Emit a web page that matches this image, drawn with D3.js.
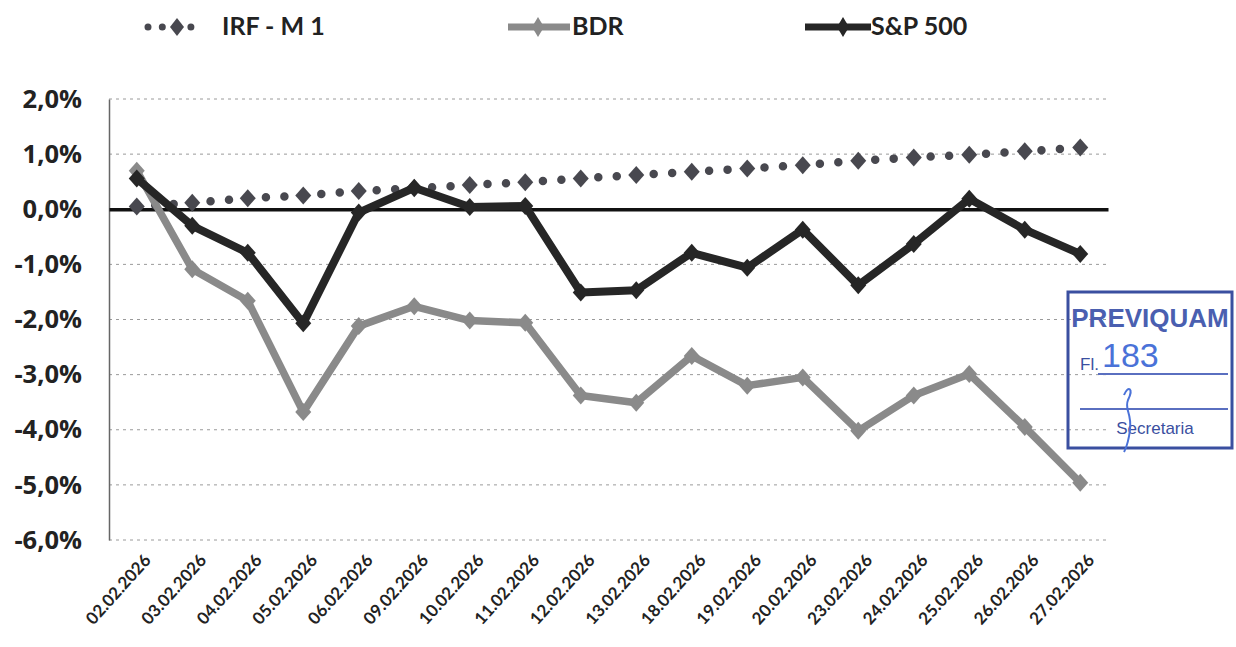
<!DOCTYPE html>
<html><head><meta charset="utf-8">
<script src="https://cdn.jsdelivr.net/npm/d3@7"></script>
<style>body{margin:0;background:#fff}svg{display:block}</style>
</head><body>
<svg id="c" width="1236" height="647"></svg>
<script>
const categories = ["02.02.2026","03.02.2026","04.02.2026","05.02.2026","06.02.2026","09.02.2026","10.02.2026","11.02.2026","12.02.2026","13.02.2026","18.02.2026","19.02.2026","20.02.2026","23.02.2026","24.02.2026","25.02.2026","26.02.2026","27.02.2026"];
const irfm1 = [0.05,0.12,0.20,0.25,0.33,0.38,0.44,0.49,0.56,0.62,0.68,0.74,0.80,0.88,0.94,0.99,1.05,1.12];
const bdr = [0.70,-1.09,-1.66,-3.68,-2.12,-1.76,-2.02,-2.06,-3.38,-3.51,-2.66,-3.20,-3.05,-4.02,-3.38,-2.99,-3.95,-4.96];
const sp500 = [0.56,-0.30,-0.79,-2.07,-0.06,0.39,0.04,0.06,-1.51,-1.47,-0.79,-1.06,-0.37,-1.38,-0.63,0.19,-0.37,-0.81];
const yTicks = [2,1,0,-1,-2,-3,-4,-5,-6];

const svg = d3.select("#c");
const font = "Lato, 'Open Sans', sans-serif";
const x = d3.scalePoint().domain(categories).range([109,1108]).padding(0.5);
const y = d3.scaleLinear().domain([-6,2]).range([540,99]);
const fmt = v => v.toFixed(1).replace(".", ",") + "%";
const diamondPath = (w,h) => `M0,${-h}L${w},0L0,${h}L${-w},0Z`;

// gridlines
svg.append("g").selectAll("line").data(yTicks.filter(d=>d!==0)).join("line")
  .attr("x1",109).attr("x2",1108).attr("y1",d=>y(d)).attr("y2",d=>y(d))
  .attr("stroke","#9a9a9a").attr("stroke-width",1).attr("stroke-dasharray","3,4");

// y axis
const yAxis = d3.axisLeft(y).tickValues(yTicks).tickFormat(fmt).tickSize(0).tickPadding(27);
const ya = svg.append("g").attr("transform","translate(109,0)").call(yAxis);
ya.select(".domain").attr("stroke","#666").attr("stroke-width",1.5);
ya.selectAll("text").attr("font-family","'Open Sans', sans-serif").attr("font-weight","bold").attr("font-size",25.5).attr("fill","#222");

// zero line / x axis
const xAxis = d3.axisBottom(x).tickSize(0).tickPadding(0);
const xa = svg.append("g").attr("transform",`translate(0,${y(0)})`).call(xAxis);
xa.select(".domain").attr("stroke","#111").attr("stroke-width",3.5);
xa.selectAll("text").remove();

// x labels
svg.append("g").selectAll("text").data(categories).join("text")
  .attr("transform",d=>`translate(${x(d)+15},${561}) rotate(-48)`)
  .attr("text-anchor","end").attr("font-family",font).attr("font-weight","bold")
  .attr("font-size",17).attr("fill","#222").text(d=>d);

const line = d3.line().x((d,i)=>x(categories[i])).y(d=>y(d));

function drawSeries(data, color, width, dash, mw, mh){
  const g = svg.append("g");
  const p = g.append("path").datum(data).attr("d",line).attr("fill","none")
    .attr("stroke",color).attr("stroke-width",width).attr("stroke-linejoin","round");
  if(dash) p.attr("stroke-dasharray",dash).attr("stroke-linecap","round");
  g.selectAll("path.m").data(data).join("path").attr("class","m")
    .attr("d",diamondPath(mw,mh))
    .attr("transform",(d,i)=>`translate(${x(categories[i])},${y(d)})`)
    .attr("fill",color);
}
drawSeries(irfm1,"#48484f",8.5,"0,18.5",8,9);
drawSeries(bdr,"#8a8a8a",7.5,null,8,9);
drawSeries(sp500,"#262626",8,null,8,9);

// legend
const lg = svg.append("g");
lg.append("line").attr("x1",148).attr("x2",191).attr("y1",27).attr("y2",27)
  .attr("stroke","#48484f").attr("stroke-width",7).attr("stroke-linecap","round").attr("stroke-dasharray","0,14.3");
lg.append("path").attr("d",diamondPath(7,9)).attr("transform","translate(177,27)").attr("fill","#48484f");
lg.append("text").attr("x",222).attr("y",35).text("IRF - M 1");
lg.append("line").attr("x1",508).attr("x2",570).attr("y1",27).attr("y2",27).attr("stroke","#8a8a8a").attr("stroke-width",7);
lg.append("path").attr("d",diamondPath(6,10)).attr("transform","translate(538,27)").attr("fill","#8a8a8a");
lg.append("text").attr("x",572).attr("y",35).text("BDR");
lg.append("line").attr("x1",805).attr("x2",871).attr("y1",27).attr("y2",27).attr("stroke","#262626").attr("stroke-width",7);
lg.append("path").attr("d",diamondPath(6,10)).attr("transform","translate(843,27)").attr("fill","#262626");
lg.append("text").attr("x",871).attr("y",35).text("S&P 500");
lg.selectAll("text").attr("font-family",font).attr("font-weight","bold").attr("font-size",25).attr("fill","#222");

// stamp
const st = svg.append("g");
st.append("rect").attr("x",1068).attr("y",292).attr("width",164).attr("height",156)
  .attr("fill","none").attr("stroke","#3a4fa0").attr("stroke-width",3);
st.append("text").attr("x",1150).attr("y",327).attr("text-anchor","middle").attr("font-family","'Liberation Sans Narrow', 'Liberation Sans', sans-serif").attr("font-weight","bold").attr("font-size",26).attr("fill","#4a5fb0").text("PREVIQUAM");
st.append("text").attr("x",1080).attr("y",370).attr("font-family","'Liberation Sans', sans-serif").attr("font-size",17).attr("fill","#3a4fa0").text("Fl.");
st.append("text").attr("x",1102).attr("y",367).attr("font-family","'Liberation Sans', sans-serif").attr("font-size",34).attr("fill","#4a72d8").text("183");
st.append("line").attr("x1",1098).attr("x2",1228).attr("y1",374).attr("y2",374).attr("stroke","#5a6fc0").attr("stroke-width",2);
st.append("line").attr("x1",1080).attr("x2",1228).attr("y1",409).attr("y2",409).attr("stroke","#5a6fc0").attr("stroke-width",2);
st.append("text").attr("x",1155).attr("y",434).attr("text-anchor","middle").attr("font-family","'Liberation Sans', sans-serif").attr("font-size",17).attr("fill","#3a4fa0").text("Secretaria");
st.append("path").attr("d","M1124,395 C1128,385 1134,388 1128,400 C1124,410 1132,412 1130,430 C1128,445 1126,448 1124,452")
  .attr("fill","none").attr("stroke","#4a72d8").attr("stroke-width",2);
</script>
</body></html>
